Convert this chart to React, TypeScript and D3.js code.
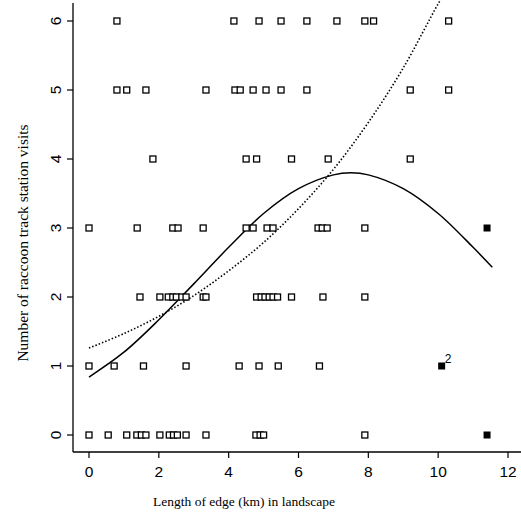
import React, { useEffect, useRef } from "react";
import * as d3 from "d3";

// visit counts (rows) and edge lengths
const row6 = [0.8, 4.15, 4.87, 5.5, 6.24, 7.1, 7.9, 8.15, 10.3];
const row5 = [0.8, 1.08, 1.63, 3.35, 4.18, 4.33, 4.7, 5.07, 5.5, 6.24, 9.2, 10.3];
const row4 = [1.83, 4.5, 4.8, 5.8, 6.85, 9.2];
const row3 = [0, 1.38, 2.4, 2.55, 3.27, 4.5, 4.7, 5.1, 5.27, 6.56, 6.68, 6.82, 7.9];
const row2 = [1.46, 2.03, 2.27, 2.4, 2.5, 2.66, 2.78, 3.27, 3.35, 4.8, 4.93, 5.04, 5.16, 5.27, 5.4, 5.8, 6.7, 7.9];
const row1 = [0, 0.72, 1.56, 2.78, 4.3, 4.87, 5.42, 6.6];
const row0 = [0, 0.55, 1.08, 1.37, 1.5, 1.63, 2.03, 2.3, 2.42, 2.53, 2.78, 3.35, 4.78, 4.9, 5.0, 7.9];

// highlighted (filled) observations
const filledX = [11.4, 11.4, 10.1];
const filledY = [3, 0, 1];
const filledLabel = ["", "", "2"];

// fitted curves
const quadFit: [number, number][] = [
  [0, 0.84], [1, 1.2], [2, 1.67], [3, 2.19], [4, 2.72], [5, 3.21], [6, 3.57],
  [7, 3.77], [7.5, 3.8], [8, 3.77], [9, 3.57], [10, 3.21], [11, 2.72], [11.55, 2.43],
];
const linFit: [number, number][] = [
  [0, 1.26], [1, 1.47], [2, 1.72], [3, 2.02], [4, 2.38], [5, 2.79], [6, 3.28],
  [7, 3.85], [8, 4.53], [9, 5.32], [10, 6.25], [10.3, 6.5],
];

const xTicks = [0, 2, 4, 6, 8, 10, 12];
const yTicks = [0, 1, 2, 3, 4, 5, 6];

const W = 521;
const H = 514;

export default function App() {
  const ref = useRef<SVGSVGElement>(null);

  useEffect(() => {
    const svg = d3.select(ref.current);
    svg.selectAll("*").remove();

    const x = d3.scaleLinear().domain([0, 12]).range([89, 508]);
    const y = d3.scaleLinear().domain([0, 6]).range([435, 21]);
    const axisX = 73;
    const axisY = 452;

    svg.append("defs").append("clipPath").attr("id", "plot-clip")
      .append("rect").attr("x", axisX).attr("y", 0).attr("width", W - axisX).attr("height", axisY);

    // axes
    svg.append("line").attr("x1", axisX).attr("x2", axisX).attr("y1", 3).attr("y2", axisY)
      .attr("stroke", "#000").attr("stroke-width", 1.3);
    svg.append("line").attr("x1", axisX).attr("x2", W).attr("y1", axisY).attr("y2", axisY)
      .attr("stroke", "#000").attr("stroke-width", 1.3);

    xTicks.forEach((t) => {
      svg.append("line").attr("x1", x(t)).attr("x2", x(t)).attr("y1", axisY).attr("y2", axisY + 6)
        .attr("stroke", "#000").attr("stroke-width", 1.2);
      svg.append("text").attr("x", x(t)).attr("y", axisY + 25).attr("text-anchor", "middle")
        .style("font-family", "'Liberation Sans', Arial, sans-serif").style("font-size", "15.5px")
        .text(t);
    });
    yTicks.forEach((t) => {
      svg.append("line").attr("x1", axisX - 6).attr("x2", axisX).attr("y1", y(t)).attr("y2", y(t))
        .attr("stroke", "#000").attr("stroke-width", 1.2);
      svg.append("text").attr("transform", `translate(61,${y(t)}) rotate(-90)`).attr("text-anchor", "middle")
        .style("font-family", "'Liberation Sans', Arial, sans-serif").style("font-size", "15.5px")
        .text(t);
    });

    svg.append("text").attr("x", 244).attr("y", 506).attr("text-anchor", "middle")
      .style("font-family", "'Liberation Serif', 'Times New Roman', serif").style("font-size", "13.5px")
      .text("Length of edge (km) in landscape");
    svg.append("text").attr("transform", "translate(28,243) rotate(-90)").attr("text-anchor", "middle")
      .style("font-family", "'Liberation Serif', 'Times New Roman', serif").style("font-size", "15.5px")
      .text("Number of raccoon track station visits");

    // fitted lines
    const line = d3.line<[number, number]>().x((d) => x(d[0])).y((d) => y(d[1])).curve(d3.curveCatmullRom);
    const g = svg.append("g").attr("clip-path", "url(#plot-clip)");
    g.append("path").attr("d", line(linFit)).attr("fill", "none").attr("stroke", "#000")
      .attr("stroke-width", 1.6).attr("stroke-dasharray", "1.5,2");
    g.append("path").attr("d", line(quadFit)).attr("fill", "none").attr("stroke", "#000")
      .attr("stroke-width", 1.5);

    // open squares
    const rows = [row0, row1, row2, row3, row4, row5, row6];
    const pts = rows.flatMap((r, count) => r.map((e) => ({ e, count })));
    const s = 6;
    svg.append("g").selectAll("rect").data(pts).join("rect")
      .attr("x", (d) => x(d.e) - s / 2).attr("y", (d) => y(d.count) - s / 2)
      .attr("width", s).attr("height", s)
      .attr("fill", "#fff").attr("stroke", "#000").attr("stroke-width", 1.3);

    // filled squares
    filledX.forEach((fx, i) => {
      svg.append("rect").attr("x", x(fx) - 3.5).attr("y", y(filledY[i]) - 3.5)
        .attr("width", 7).attr("height", 7).attr("fill", "#000");
      if (filledLabel[i]) {
        svg.append("text").attr("x", x(fx) + 3).attr("y", y(filledY[i]) - 3)
          .style("font-family", "'Liberation Sans', Arial, sans-serif").style("font-size", "12px")
          .text(filledLabel[i]);
      }
    });
  }, []);

  return (
    <svg ref={ref} width={W} height={H}
      style={{ position: "absolute", left: 0, top: 0, background: "#fff" }} />
  );
}
